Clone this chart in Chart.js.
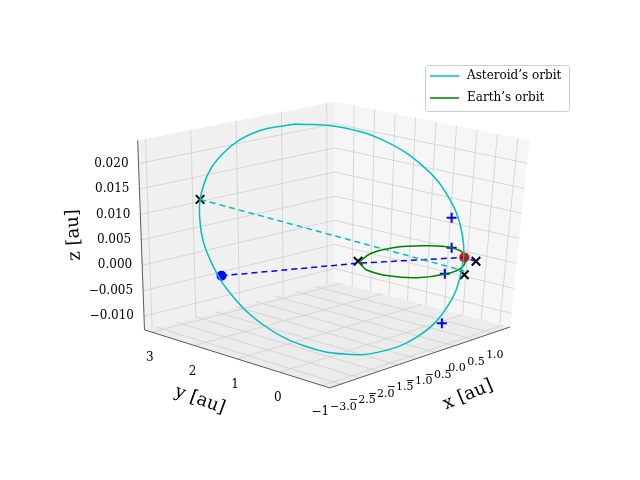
<!DOCTYPE html><html><head><script src="https://cdn.jsdelivr.net/npm/chart.js@4"></script>
<style>body{margin:0;background:#fff}#w{width:640px;height:480px}</style></head><body><div id="w"><canvas id="c"></canvas></div>
<script>
// screen-space readings (pixels) of the projected 3D figure
const asteroidOrbit=[[295,120],[340,123],[385,137],[425,163],[452,196],[466,235],[465,272],[450,310],[420,340],[380,356],[345,358],[305,350],[265,330],[232,300],[208,262],[197,222],[201,182],[222,149],[255,128],[295,120]];
const earthOrbit=[[360,263],[372,254],[395,248],[425,246],[455,248],[469,256],[466,268],[450,275],[420,279],[390,277],[368,271],[360,263]];
const blueDash=[[219,277],[359,264],[468,258],[480,262]];
const cyanDash=[[197,198],[468,272]];
const crosses=[[197,198],[359,262],[468,276],[480,262]];
const pluses=[[455,217],[455,248],[448,275],[445,326]];
const redDots=[[468,258]];
const blueDots=[[219,277]];
const zTicks=['0.020','0.015','0.010','0.005','0.000','\u22120.005','\u22120.010'];
const yTicks=['3','2','1','0','\u22121'];
const xTicks=['\u22123.0','\u22122.5','\u22122.0','\u22121.5','\u22121.0','\u22120.5','0.0','0.5','1.0'];
const legendLabels=["Asteroid\u2019s orbit","Earth\u2019s orbit"];
const legendColors=['#00bfbf','#008000'];
const P=a=>a.map(([x,y])=>({x,y}));
const F='"DejaVu Serif"';
const box={lt:[133,137],lb:[140,333],bt:[335,97],bb:[335,283],rt:[535,137],rb:[515,330],fb:[330,393]};
const L=(a,b,t)=>[a[0]+(b[0]-a[0])*t,a[1]+(b[1]-a[1])*t];
const bg={id:'bg',beforeDatasetsDraw(ch){const c=ch.ctx,sx=ch.scales.x,sy=ch.scales.y;const p=q=>[sx.getPixelForValue(q[0]),sy.getPixelForValue(q[1])];
const poly=(pts,f)=>{c.beginPath();pts.map(p).forEach((q,i)=>i?c.lineTo(...q):c.moveTo(...q));c.closePath();c.fillStyle=f;c.fill();};
const ln=(a,b)=>{c.beginPath();c.moveTo(...p(a));c.lineTo(...p(b));c.stroke();};
const B=box;c.save();
poly([B.lt,B.bt,B.bb,B.lb],'#f0f0f0');poly([B.bt,B.rt,B.rb,B.bb],'#f6f6f6');poly([B.lb,B.bb,B.rb,B.fb],'#ececec');
c.strokeStyle='#cfcfcf';c.lineWidth=0.8;
for(let i=0;i<7;i++){const t=(24+26.3*i)/196;ln(L(B.lt,B.lb,t),L(B.bt,B.bb,t));ln(L(B.bt,B.bb,t),L(B.rt,B.rb,t));}
for(let i=0;i<5;i++){const t=0.04+0.23*i;ln(L(B.lt,B.bt,t),L(B.lb,B.bb,t));ln(L(B.lb,B.fb,t),L(B.bb,B.rb,t));}
for(let i=0;i<9;i++){const t=0.1+0.105*i;ln(L(B.bt,B.rt,t),L(B.bb,B.rb,t));ln(L(B.bb,B.lb,t),L(B.rb,B.fb,t));}
c.strokeStyle='#333';c.lineWidth=0.8;ln(B.lt,B.lb);ln(B.lb,B.fb);ln(B.fb,B.rb);
c.fillStyle='#000';c.font='12px '+F;c.textAlign='right';c.textBaseline='middle';
zTicks.forEach((s,i)=>{const q=p(L(B.lt,B.lb,(24+26.3*i)/196));c.fillText(s,q[0]-10,q[1]);});
c.textAlign='center';
yTicks.forEach((s,i)=>{const q=p(L(B.lb,B.fb,0.04+0.23*i));c.fillText(s,q[0]-2,q[1]+26);});
c.font='11px '+F;
xTicks.forEach((s,i)=>{const q=p(L(B.fb,B.rb,0.02+0.105*i));c.fillText(s,q[0]+10,q[1]+20);});
c.font='18px '+F;
const rt=(s,x,y,a)=>{c.save();c.translate(x,y);c.rotate(a);c.fillText(s,0,0);c.restore();};
rt('z [au]',74,235,-Math.PI/2-0.05);rt('y [au]',200,400,0.35);rt('x [au]',468,395,-0.4);
// legend
c.fillStyle='#fff';c.strokeStyle='#ccc';c.lineWidth=1;c.beginPath();c.roundRect(425.5,65.5,144,46,3);c.fill();c.stroke();
c.font='12px '+F;c.textAlign='left';
legendLabels.forEach((s,i)=>{const y=76+22*i;c.strokeStyle=legendColors[i];c.lineWidth=1.5;c.beginPath();c.moveTo(430,y);c.lineTo(459,y);c.stroke();c.fillStyle='#000';c.fillText(s,467,y);});
c.restore();}};
const ds=(label,d,o)=>Object.assign({label,data:P(d),showLine:true,pointRadius:0,borderWidth:1.5,fill:false},o);
const mk=(d,style,col,r)=>({data:P(d),showLine:false,pointStyle:style,pointRadius:r,borderColor:col,backgroundColor:col,pointBorderWidth:2});
new Chart(document.getElementById('c'),{type:'scatter',plugins:[bg],data:{datasets:[
ds(legendLabels[0],asteroidOrbit,{borderColor:'#00bfbf',tension:0.4}),
ds(legendLabels[1],earthOrbit,{borderColor:'#008000',tension:0.4}),
ds('',cyanDash,{borderColor:'#00bfbf',borderDash:[6,4]}),
ds('',blueDash,{borderColor:'#0000ff',borderDash:[6,4]}),
mk(pluses,'cross','#0000ff',5),mk(crosses,'crossRot','#000',6),mk(redDots,'circle','#ff0000',4),mk(blueDots,'circle','#0000ff',4)]},
options:{responsive:true,maintainAspectRatio:false,animation:false,layout:{padding:0},
scales:{x:{display:false,min:0,max:640},y:{display:false,min:0,max:480,reverse:true}},
plugins:{tooltip:{enabled:false},legend:{display:false}}}});
</script></body></html>
